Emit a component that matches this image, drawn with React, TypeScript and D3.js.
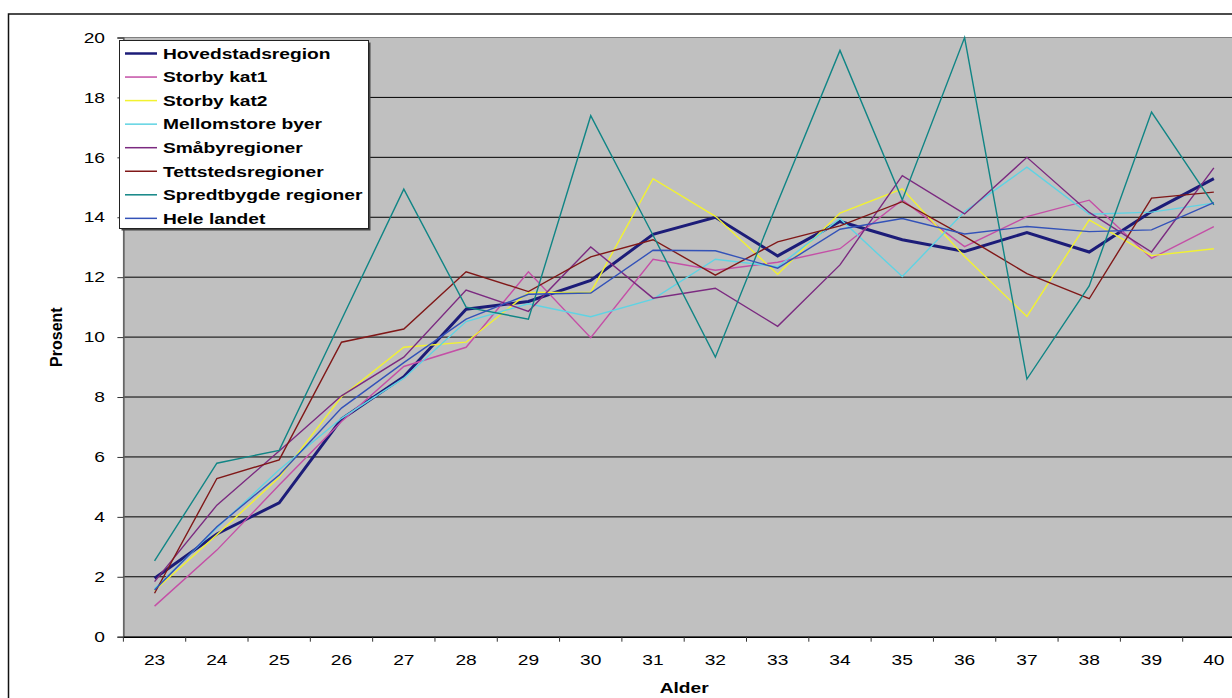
import React, { useEffect, useRef } from "react";
import * as d3 from "d3";

const ages = ["23", "24", "25", "26", "27", "28", "29", "30", "31", "32", "33", "34", "35", "36", "37", "38", "39", "40"];

const yTicks = [0, 2, 4, 6, 8, 10, 12, 14, 16, 18, 20];

const hovedstad = [1.95, 3.43, 4.47, 7.26, 8.68, 10.93, 11.19, 11.89, 13.43, 14.0, 12.71, 13.86, 13.25, 12.86, 13.49, 12.84, 14.19, 15.29];
const storbyKat1 = [1.02, 2.89, 5.06, 7.18, 9.02, 9.66, 12.18, 9.98, 12.6, 12.23, 12.5, 12.95, 14.58, 13.02, 14.02, 14.57, 12.63, 13.69];
const storbyKat2 = [1.54, 3.4, 5.32, 8.01, 9.66, 9.83, 11.49, 11.49, 15.29, 14.03, 12.1, 14.14, 14.95, 12.69, 10.69, 13.91, 12.72, 12.95];
const mellomstore = [1.6, 3.63, 5.57, 7.29, 8.63, 10.52, 11.11, 10.68, 11.27, 12.6, 12.35, 13.95, 12.02, 14.19, 15.67, 14.1, 14.17, 14.47];
const smaaby = [1.84, 4.39, 6.2, 8.04, 9.33, 11.57, 10.86, 13.01, 11.3, 11.63, 10.36, 12.41, 15.39, 14.11, 16.0, 14.16, 12.84, 15.65];
const tettsted = [1.45, 5.28, 5.9, 9.83, 10.27, 12.18, 11.52, 12.68, 13.25, 12.07, 13.18, 13.71, 14.52, 13.36, 12.12, 11.28, 14.64, 14.84];
const spredt = [2.53, 5.79, 6.22, 10.58, 14.94, 11.0, 10.6, 17.39, 13.4, 9.33, 14.5, 19.57, 14.58, 20.0, 8.6, 11.71, 17.51, 14.41];
const heleLandet = [1.56, 3.67, 5.4, 7.63, 9.15, 10.6, 11.43, 11.47, 12.9, 12.88, 12.3, 13.6, 13.96, 13.44, 13.69, 13.52, 13.58, 14.49];

const seriesNames = [
  "Hovedstadsregion",
  "Storby kat1",
  "Storby kat2",
  "Mellomstore byer",
  "Småbyregioner",
  "Tettstedsregioner",
  "Spredtbygde regioner",
  "Hele landet",
];
const seriesValues = [hovedstad, storbyKat1, storbyKat2, mellomstore, smaaby, tettsted, spredt, heleLandet];
const seriesColors = ["#1c1c78", "#c44fa6", "#f2f230", "#5fd3e3", "#7b2a80", "#801818", "#108585", "#3352b8"];

const FONT = "'Liberation Sans', Arial, sans-serif";
const SX = 1.28;

const App = () => {
  const ref = useRef<SVGSVGElement | null>(null);

  useEffect(() => {
    if (!ref.current) return;
    const svg = d3.select(ref.current);
    svg.selectAll("*").remove();

    const left = 123.4;
    const right = 1245;
    const top = 37.5;
    const bottom = 636.7;

    const x = d3.scaleBand().domain(ages).range([left, right]).padding(0);
    const y = d3.scaleLinear().domain([0, 20]).range([bottom, top]);

    svg.append("rect").attr("width", 1232).attr("height", 698).attr("fill", "#fff");

    // outer chart border
    svg
      .append("rect")
      .attr("x", 8.5)
      .attr("y", 14)
      .attr("width", 1300)
      .attr("height", 800)
      .attr("fill", "none")
      .attr("stroke", "#111")
      .attr("stroke-width", 1.5);

    // plot area
    svg
      .append("rect")
      .attr("x", left)
      .attr("y", top)
      .attr("width", right - left)
      .attr("height", bottom - top)
      .attr("fill", "#c0c0c0")
      .attr("stroke", "#808080")
      .attr("stroke-width", 1);

    // gridlines
    svg
      .append("g")
      .selectAll("line")
      .data(yTicks.filter((t) => t > 0 && t < 20))
      .enter()
      .append("line")
      .attr("x1", left)
      .attr("x2", right)
      .attr("y1", (d) => y(d))
      .attr("y2", (d) => y(d))
      .attr("stroke", "#000")
      .attr("stroke-width", 1);

    // y axis
    const yAxis = svg
      .append("g")
      .attr("transform", `translate(${left},0)`)
      .call(d3.axisLeft(y).tickValues(yTicks).tickSize(6).tickFormat(() => ""));
    yAxis.select(".domain").attr("stroke", "#606060").attr("stroke-width", 1.5);
    yAxis.selectAll(".tick line").attr("stroke", "#333");

    svg
      .append("g")
      .selectAll("text")
      .data(yTicks)
      .enter()
      .append("text")
      .attr("transform", (d) => `translate(105,${y(d)}) scale(${SX},1)`)
      .attr("text-anchor", "end")
      .attr("dominant-baseline", "central")
      .style("font-family", FONT)
      .style("font-size", "15px")
      .style("fill", "#000")
      .text((d) => d);

    // x axis
    const xAxis = svg
      .append("g")
      .attr("transform", `translate(0,${bottom})`)
      .call(d3.axisBottom(x).tickSize(0).tickFormat(() => ""));
    xAxis.select(".domain").attr("stroke", "#000").attr("stroke-width", 1.5);

    svg
      .append("g")
      .selectAll("line")
      .data(ages)
      .enter()
      .append("line")
      .attr("x1", (d) => x(d)!)
      .attr("x2", (d) => x(d)!)
      .attr("y1", bottom)
      .attr("y2", bottom + 5)
      .attr("stroke", "#333");

    svg
      .append("g")
      .selectAll("text")
      .data(ages)
      .enter()
      .append("text")
      .attr("transform", (d) => `translate(${x(d)! + x.bandwidth() / 2},660) scale(${SX},1)`)
      .attr("text-anchor", "middle")
      .attr("dominant-baseline", "central")
      .style("font-family", FONT)
      .style("font-size", "15px")
      .text((d) => d);

    // axis titles
    svg
      .append("text")
      .attr("transform", `translate(${(left + right) / 2},688) scale(${SX},1)`)
      .attr("text-anchor", "middle")
      .attr("dominant-baseline", "central")
      .style("font-family", FONT)
      .style("font-size", "15px")
      .style("font-weight", "bold")
      .text("Alder");

    svg
      .append("text")
      .attr("transform", `translate(56,${(top + bottom) / 2}) rotate(-90)`)
      .attr("text-anchor", "middle")
      .attr("dominant-baseline", "central")
      .style("font-family", FONT)
      .style("font-size", "16px")
      .style("font-weight", "bold")
      .text("Prosent");

    // lines
    const line = d3
      .line<number>()
      .x((_, i) => x(ages[i])! + x.bandwidth() / 2)
      .y((d) => y(d));

    svg
      .append("g")
      .selectAll("path")
      .data(seriesValues)
      .enter()
      .append("path")
      .attr("d", (d) => line(d))
      .attr("fill", "none")
      .attr("stroke", (_, i) => seriesColors[i])
      .attr("stroke-width", (_, i) => (i === 0 ? 3 : 1.4))
      .attr("stroke-linejoin", "miter");

    // legend
    const lg = svg.append("g");
    const lx = 119.5;
    const ly = 40.5;
    const lw = 249;
    const lh = 188;
    lg.append("rect")
      .attr("x", lx + 2)
      .attr("y", ly + 2)
      .attr("width", lw)
      .attr("height", lh)
      .attr("fill", "#444");
    lg.append("rect")
      .attr("x", lx)
      .attr("y", ly)
      .attr("width", lw)
      .attr("height", lh)
      .attr("fill", "#fff")
      .attr("stroke", "#222")
      .attr("stroke-width", 1);

    const rowY = (i: number) => 53.5 + i * 23.55;
    const items = lg
      .selectAll(".item")
      .data(seriesNames)
      .enter()
      .append("g")
      .attr("class", "item");
    items
      .append("line")
      .attr("x1", 125)
      .attr("x2", 157)
      .attr("y1", (_, i) => rowY(i))
      .attr("y2", (_, i) => rowY(i))
      .attr("stroke", (_, i) => seriesColors[i])
      .attr("stroke-width", (_, i) => (i === 0 ? 2.5 : 1.5));
    items
      .append("text")
      .attr("transform", (_, i) => `translate(163,${rowY(i)}) scale(1.24,1)`)
      .attr("dominant-baseline", "central")
      .style("font-family", FONT)
      .style("font-size", "15.5px")
      .style("font-weight", "bold")
      .text((d) => d);
  }, []);

  return (
    <svg
      ref={ref}
      width={1232}
      height={698}
      style={{ position: "fixed", left: 0, top: 0, display: "block", overflow: "hidden" }}
    />
  );
};

export default App;
